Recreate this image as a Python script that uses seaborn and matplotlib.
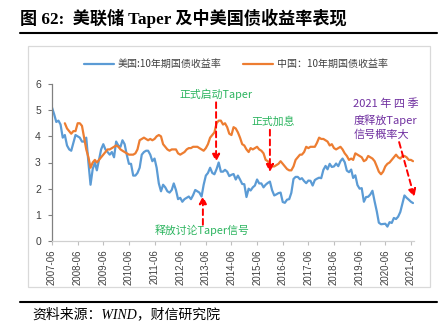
import numpy as np
import pandas as pd
import matplotlib
matplotlib.use("Agg")
import matplotlib.pyplot as plt
import matplotlib.dates as mdates
from matplotlib.patches import Rectangle
from matplotlib.lines import Line2D
import seaborn as sns

# ---- data: monthly 10-year government bond yields (%) ----
us_label = "美国:10年期国债收益率"
cn_label = "中国：10年期国债收益率"
us_start = "2007-06-01"
cn_start = "2007-12-01"

us_10y = [
    5.10, 4.85, 4.55, 4.60, 4.45, 3.95, 4.05,                          # 2007 Jun-Dec
    3.65, 3.50, 3.45, 3.75, 4.05, 4.00, 3.95, 3.80, 3.80, 3.95, 3.00, 2.15,  # 2008
    2.75, 3.00, 2.70, 3.10, 3.50, 3.70, 3.50, 3.40, 3.30, 3.40, 3.20, 3.80,  # 2009
    3.65, 3.60, 3.85, 3.70, 3.30, 2.95, 2.95, 2.50, 2.50, 2.60, 2.80, 3.30,  # 2010
    3.40, 3.45, 3.45, 3.30, 3.05, 3.15, 2.80, 2.20, 1.90, 2.15, 2.05, 1.90,  # 2011
    1.85, 1.95, 2.20, 1.95, 1.60, 1.65, 1.50, 1.60, 1.65, 1.70, 1.60, 1.75,  # 2012
    1.95, 1.90, 1.85, 1.70, 2.15, 2.50, 2.60, 2.80, 2.60, 2.55, 2.75, 3.00,  # 2013
    2.65, 2.65, 2.72, 2.65, 2.48, 2.53, 2.56, 2.35, 2.50, 2.35, 2.18, 2.17,  # 2014
    1.68, 2.00, 1.93, 2.05, 2.12, 2.35, 2.20, 2.20, 2.05, 2.15, 2.22, 2.27,  # 2015
    1.94, 1.74, 1.78, 1.83, 1.85, 1.49, 1.46, 1.58, 1.60, 1.84, 2.37, 2.45,  # 2016
    2.45, 2.36, 2.40, 2.29, 2.21, 2.31, 2.30, 2.12, 2.33, 2.38, 2.42, 2.40,  # 2017
    2.72, 2.87, 2.74, 2.95, 2.83, 2.85, 2.96, 2.86, 3.05, 3.15, 3.01, 2.69,  # 2018
    2.63, 2.73, 2.41, 2.51, 2.14, 2.00, 2.02, 1.50, 1.68, 1.69, 1.78, 1.92,  # 2019
    1.51, 1.13, 0.70, 0.64, 0.65, 0.66, 0.55, 0.72, 0.69, 0.88, 0.84, 0.93,  # 2020
    1.11, 1.44, 1.74, 1.65, 1.58, 1.50, 1.45,                          # 2021 Jan-Jul
]

cn_10y = [
    4.50,                                                              # 2007 Dec
    4.30, 4.20, 4.10, 4.20, 4.20, 4.50, 4.50, 4.40, 3.95, 3.50, 3.20, 2.80,  # 2008
    3.00, 3.10, 3.00, 3.10, 3.20, 3.30, 3.40, 3.50, 3.50, 3.55, 3.60, 3.65,  # 2009
    3.60, 3.50, 3.45, 3.40, 3.35, 3.30, 3.30, 3.30, 3.35, 3.50, 3.85, 3.90,  # 2010
    3.95, 3.90, 3.85, 3.90, 3.85, 3.90, 4.00, 4.05, 4.00, 3.70, 3.60, 3.50,  # 2011
    3.45, 3.50, 3.50, 3.50, 3.35, 3.30, 3.35, 3.40, 3.50, 3.55, 3.55, 3.60,  # 2012
    3.60, 3.60, 3.55, 3.50, 3.45, 3.55, 3.70, 3.95, 4.05, 4.15, 4.50, 4.60,  # 2013
    4.60, 4.45, 4.50, 4.35, 4.10, 4.05, 4.35, 4.30, 4.15, 3.95, 3.70, 3.65,  # 2014
    3.50, 3.40, 3.55, 3.50, 3.55, 3.60, 3.50, 3.45, 3.35, 3.10, 3.05, 2.90,  # 2015
    2.85, 2.85, 2.90, 2.95, 3.05, 2.95, 2.85, 2.75, 2.70, 2.70, 2.85, 3.10,  # 2016
    3.20, 3.30, 3.30, 3.40, 3.60, 3.55, 3.60, 3.60, 3.60, 3.75, 3.95, 3.90,  # 2017
    3.90, 3.85, 3.80, 3.65, 3.70, 3.55, 3.50, 3.55, 3.60, 3.50, 3.35, 3.25,  # 2018
    3.10, 3.15, 3.10, 3.35, 3.30, 3.25, 3.20, 3.05, 3.10, 3.25, 3.20, 3.15,  # 2019
    3.05, 2.85, 2.65, 2.55, 2.65, 2.85, 2.95, 3.00, 3.10, 3.20, 3.30, 3.20,  # 2020
    3.15, 3.25, 3.25, 3.20, 3.10, 3.10, 3.05,                          # 2021 Jan-Jul
]

year_ticks = ["2007-06", "2008-06", "2009-06", "2010-06", "2011-06", "2012-06",
              "2013-06", "2014-06", "2015-06", "2016-06", "2017-06", "2018-06",
              "2019-06", "2020-06", "2021-06"]
y_ticks = [0, 1, 2, 3, 4, 5, 6]

us_df = pd.DataFrame({"date": pd.date_range(us_start, periods=len(us_10y), freq="MS"),
                      "yield": us_10y, "series": us_label})
cn_df = pd.DataFrame({"date": pd.date_range(cn_start, periods=len(cn_10y), freq="MS"),
                      "yield": cn_10y, "series": cn_label})
df = pd.concat([us_df, cn_df], ignore_index=True)

# ---- style ----
sns.set_theme(style="white")
plt.rcParams["font.family"] = ["Noto Sans CJK SC", "DejaVu Sans"]

BLUE = "#5B9BD5"
ORANGE = "#ED7D31"
GREEN = "#2BB45E"
PURPLE = "#7030A0"
RED = "#FF0000"
TICK_C = "#404040"

W, H = 444, 330
fig = plt.figure(figsize=(W / 100, H / 100), dpi=100)

# axes placed in pixel terms: left spine at x=52, y=0 at 241px, y=6 at 84px
ax = fig.add_axes([52 / W, (H - 241) / H, 362 / W, 157 / H])

sns.lineplot(data=df, x="date", y="yield", hue="series",
             palette={us_label: BLUE, cn_label: ORANGE},
             linewidth=1.6, ax=ax, legend=False)

ax.set_xlim(pd.Timestamp("2007-06-01"), pd.Timestamp("2021-07-15"))
ax.set_ylim(0, 6)
ax.set_xlabel("")
ax.set_ylabel("")
ax.set_yticks(y_ticks)
ax.set_yticklabels([str(v) for v in y_ticks], fontsize=7.5, color=TICK_C,
                   family=["Liberation Sans", "DejaVu Sans"])
ax.set_xticks(pd.to_datetime(year_ticks))
ax.set_xticklabels(year_ticks, rotation=90, fontsize=6.9, color=TICK_C,
                   family=["Liberation Sans", "DejaVu Sans"])
ax.tick_params(axis="y", direction="out", length=3, width=0.8, color="#808080", pad=5, left=True)
ax.tick_params(axis="x", direction="out", length=3, width=0.8, color="#BFBFBF", pad=3, bottom=True)
for side in ["top", "right"]:
    ax.spines[side].set_visible(False)
ax.spines["left"].set_color("#808080")
ax.spines["left"].set_linewidth(0.9)
ax.spines["bottom"].set_color("#D0D0D0")
ax.spines["bottom"].set_linewidth(0.9)
ax.patch.set_alpha(0)

# legend above the plot
handles = [Line2D([], [], color=BLUE, lw=1.6), Line2D([], [], color=ORANGE, lw=1.6)]
fig.legend(handles, [us_label, cn_label], loc="center", ncol=2,
           bbox_to_anchor=(236 / W, 1 - 64 / H), frameon=False,
           fontsize=7.2, handlelength=3.0, handletextpad=0.4, columnspacing=2.2,
           labelcolor="#404040")

# annotations
def d(s):
    return mdates.date2num(pd.Timestamp(s))

arrow_kw = dict(arrowstyle="-|>", color=RED, lw=1.4, linestyle=(0, (3, 2)),
                mutation_scale=11, shrinkA=0, shrinkB=0)

ax.annotate("", xy=(d("2013-04-20"), 1.72), xytext=(d("2013-04-20"), 0.62),
            arrowprops=arrow_kw)
ax.text(d("2013-04-15"), 0.42, "释放讨论Taper信号", color=GREEN, fontsize=7.8,
        ha="center", va="center")

ax.annotate("", xy=(d("2013-10-25"), 3.02), xytext=(d("2013-10-25"), 5.30),
            arrowprops=arrow_kw)
ax.text(d("2013-10-25"), 5.62, "正式启动Taper", color=GREEN, fontsize=7.8,
        ha="center", va="center")

ax.annotate("", xy=(d("2015-12-01"), 2.63), xytext=(d("2015-12-01"), 4.25),
            arrowprops=arrow_kw)
ax.text(d("2016-01-10"), 4.58, "正式加息", color=GREEN, fontsize=7.8,
        ha="center", va="center")

ax.annotate("", xy=(d("2021-07-20"), 1.68), xytext=(d("2020-12-15"), 3.78),
            arrowprops=arrow_kw, annotation_clip=False)
for txt, yv in [("2021 年 四 季", 5.23), ("度释放Taper", 4.63), ("信号概率大", 4.05)]:
    ax.text(d("2019-03-01"), yv, txt, color=PURPLE, fontsize=8, ha="left", va="center")

# chart frame
fig.patches.append(Rectangle((28 / W, 1 - 287 / H), (430 - 28) / W, (287 - 46) / H,
                             transform=fig.transFigure, fill=False,
                             edgecolor="#D9D9D9", lw=0.9))

# title, rules and source line
fig.text(20 / W, 1 - 18 / H, "图 62:  美联储 Taper 及中美国债收益率表现",
         fontsize=12.3, fontweight="bold", ha="left", va="center",
         family=["Liberation Serif", "Noto Sans CJK SC"], color="black")
fig.add_artist(Line2D([20 / W, 437 / W], [1 - 33 / H, 1 - 33 / H],
                      transform=fig.transFigure, color="black", lw=1.5))
fig.add_artist(Line2D([20 / W, 437 / W], [1 - 302 / H, 1 - 302 / H],
                      transform=fig.transFigure, color="black", lw=1.5))
fig.text(32 / W, 1 - 314 / H, "资料来源：WIND，财信研究院", fontsize=10,
         style="italic", ha="left", va="center",
         family=["Liberation Serif", "Noto Sans CJK SC"], color="black")

fig.savefig("out.png", dpi=100)
